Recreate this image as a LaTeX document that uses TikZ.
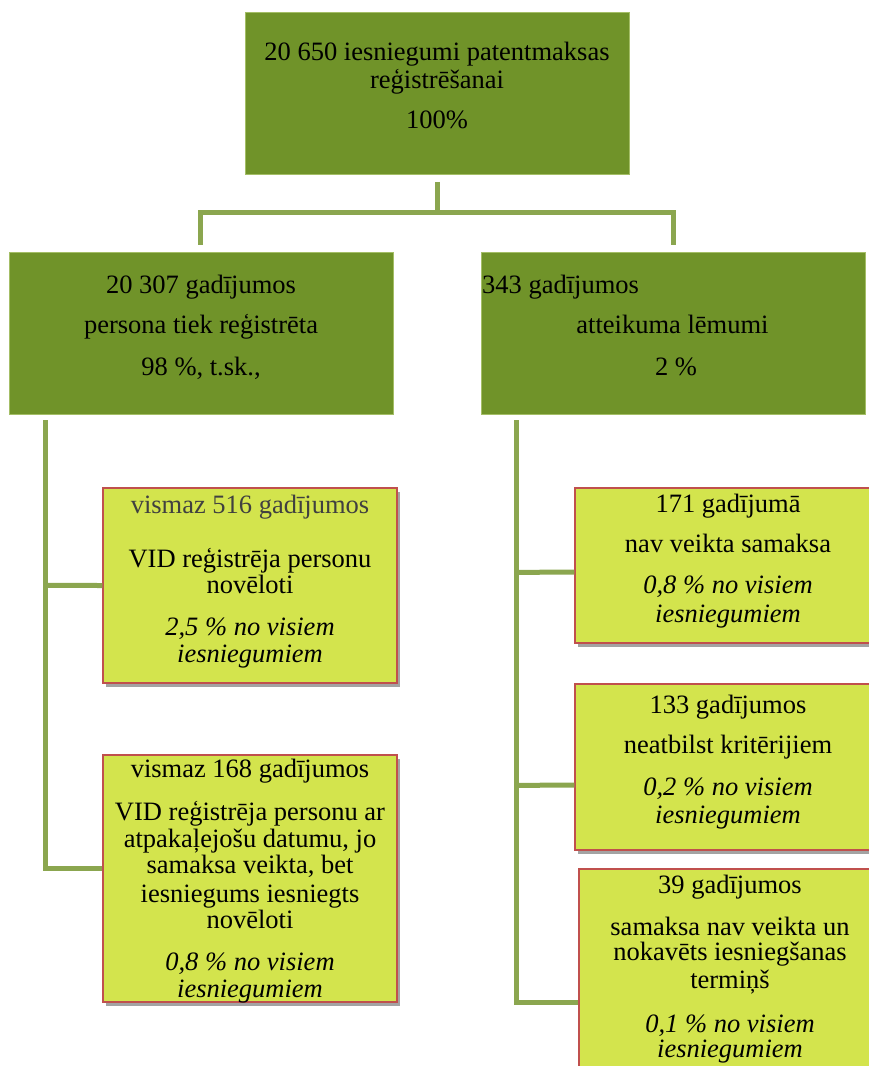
\documentclass[tikz,border=0pt]{standalone}
\usepackage{fontspec}
\setmainfont{Liberation Serif}
\usetikzlibrary{shadows}
\definecolor{darkolive}{HTML}{709329}
\definecolor{oliveedge}{HTML}{A4BE66}
\definecolor{connline}{HTML}{8BA64F}
\definecolor{limefill}{HTML}{D3E44D}
\definecolor{rededge}{HTML}{C0504D}
\definecolor{shadowgray}{HTML}{A3A3A3}
\definecolor{softtext}{HTML}{404040}
\tikzset{
  bigbox/.style={draw=oliveedge, line width=0.8pt, fill=darkolive, inner sep=0pt},
  subbox/.style={draw=rededge, line width=1.4pt, fill=limefill, inner sep=0pt,
    drop shadow={shadow xshift=3pt, shadow yshift=-4pt, fill=shadowgray, opacity=1}},
  conn/.style={draw=connline, line width=5pt},
  lbl/.style={anchor=base, inner sep=0pt, font=\fontsize{26.5}{28}\selectfont},
  itl/.style={lbl, font=\fontsize{26.5}{28}\selectfont\itshape},
}
\begin{document}
\begin{tikzpicture}[x=1pt,y=-1pt]
\useasboundingbox (0,0) rectangle (869,1066);
\clip (0,0) rectangle (869,1066);

% main boxes
\node[bigbox, minimum width=384pt, minimum height=162pt] (top) at (437,93.5) {};
\node[bigbox, minimum width=384pt, minimum height=162pt] (lreg) at (201,333) {};
\node[bigbox, minimum width=384pt, minimum height=162pt] (rrej) at (673,333) {};

% connectors
\draw[conn] ([yshift=-7pt]top.south) -- ([yshift=-38pt]top.south);
\draw[conn] ([xshift=-1pt,yshift=7pt]lreg.north) |- ([yshift=-38pt]top.south) -| ([yshift=7pt]rrej.north);

% sub boxes
\node[subbox, minimum width=294pt, minimum height=195pt] (boxA) at (250,585.5) {};
\node[subbox, minimum width=294pt, minimum height=247pt] (boxB) at (250,878.5) {};
\node[subbox, minimum width=307pt, minimum height=155pt] (boxC) at (728.5,565.5) {};
\node[subbox, minimum width=307pt, minimum height=166pt] (boxD) at (728.5,767) {};
\node[subbox, minimum width=302pt, minimum height=231pt] (boxE) at (730,984.5) {};

% left spine
\draw[conn] ([xshift=36.5pt,yshift=-6pt]lreg.south west) |- ([yshift=10.5pt]boxB.west);
\draw[conn] ([xshift=36.5pt,yshift=-171pt]lreg.south west) -- (boxA.west);
% right spine
\draw[conn] ([xshift=36pt,yshift=-6pt]rrej.south west) |- ([yshift=-17.5pt]boxE.west);
\draw[conn] ([xshift=36pt,yshift=-158pt]rrej.south west) -- ([yshift=-6.5pt]boxC.west);
\draw[conn] ([xshift=36pt,yshift=-371pt]rrej.south west) -- ([yshift=-18pt]boxD.west);

% top box text
\node[lbl] (t1) at (437,60) {20 650 iesniegumi patentmaksas};
\node[lbl] (t2) at (437,88) {reģistrēšanai};
\node[lbl] (t3) at (437,128) {100\%};

% registered branch
\node[lbl] (l1) at (201,293) {20 307 gadījumos};
\node[lbl] (l2) at (201,333) {persona tiek reģistrēta};
\node[lbl] (l3) at (201,375) {98 \%, t.sk.,};

% refused branch
\node[lbl, anchor=base west] (r1) at (482,293) {343 gadījumos};
\node[lbl] (r2) at (672.5,333) {atteikuma lēmumi};
\node[lbl] (r3) at (676,375) {2 \%};

% box A
\node[lbl, text=softtext] (a1) at (250,513) {vismaz 516 gadījumos};
\node[lbl] (a2) at (250,567) {VID reģistrēja personu};
\node[lbl] (a3) at (250,593) {novēloti};
\node[itl] (a4) at (250,635) {2,5 \% no visiem};
\node[itl] (a5) at (250,662) {iesniegumiem};

% box B
\begin{scope}
\clip (boxB.south west) rectangle (boxB.north east);
\node[lbl] (b1) at (250,777) {vismaz 168 gadījumos};
\node[lbl] (b2) at (250,820) {VID reģistrēja personu ar};
\node[lbl] (b3) at (250,847) {atpakaļejošu datumu, jo};
\node[lbl] (b4) at (250,873) {samaksa veikta, bet};
\node[lbl] (b5) at (250,902) {iesniegums iesniegts};
\node[lbl] (b6) at (250,928) {novēloti};
\node[itl] (b7) at (250,970) {0,8 \% no visiem};
\node[itl] (b8) at (250,997) {iesniegumiem};
\end{scope}

% box C
\node[lbl] (c1) at (728,512) {171 gadījumā};
\node[lbl] (c2) at (728,552) {nav veikta samaksa};
\node[itl] (c3) at (728,593) {0,8 \% no visiem};
\node[itl] (c4) at (728,622) {iesniegumiem};

% box D
\node[lbl] (d1) at (728,713) {133 gadījumos};
\node[lbl] (d2) at (728,753) {neatbilst kritērijiem};
\node[itl] (d3) at (728,795) {0,2 \% no visiem};
\node[itl] (d4) at (728,823) {iesniegumiem};

% box E
\node[lbl] (e1) at (730,893) {39 gadījumos};
\node[lbl] (e2) at (730,935) {samaksa nav veikta un};
\node[lbl] (e3) at (730,960) {nokavēts iesniegšanas};
\node[lbl] (e4) at (730,988) {termiņš};
\node[itl] (e5) at (730,1032) {0,1 \% no visiem};
\node[itl] (e6) at (730,1057) {iesniegumiem};
\end{tikzpicture}
\end{document}
